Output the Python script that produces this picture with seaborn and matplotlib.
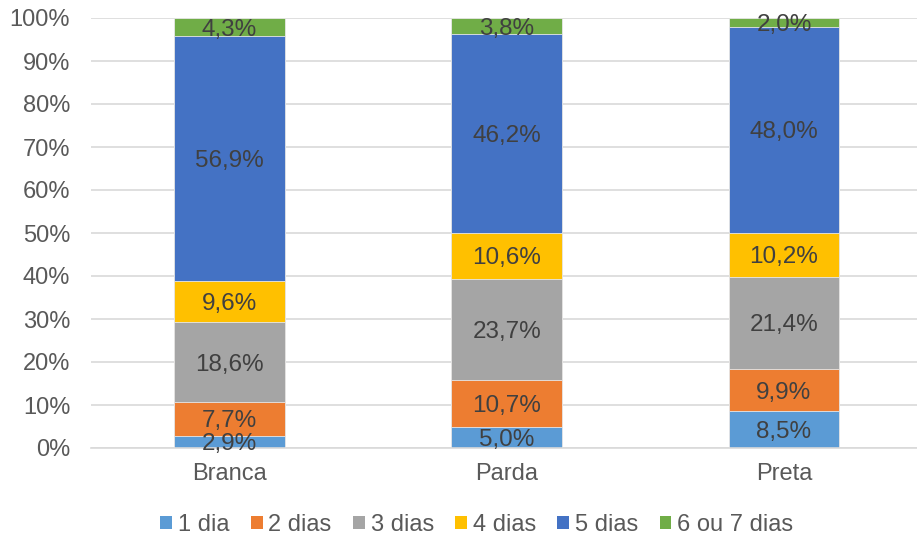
import matplotlib
matplotlib.use('Agg')
import matplotlib.pyplot as plt
from matplotlib.patches import Patch
from matplotlib.ticker import PercentFormatter
import seaborn as sns
import pandas as pd
import numpy as np

# Data (percent of each group).
grupos = ['Branca', 'Parda', 'Preta']
series = ['1 dia', '2 dias', '3 dias', '4 dias', '5 dias', '6 ou 7 dias']
dia1 = [2.9, 5.0, 8.5]
dias2 = [7.7, 10.7, 9.9]
dias3 = [18.6, 23.7, 21.4]
dias4 = [9.6, 10.6, 10.2]
dias5 = [56.9, 46.2, 48.0]
dias6_7 = [4.3, 3.8, 2.0]
cores = ['#5B9BD5', '#ED7D31', '#A5A5A5', '#FFC000', '#4472C4', '#70AD47']

sns.set_style('white')
plt.rcParams['font.family'] = ['Liberation Sans', 'DejaVu Sans']

df = pd.DataFrame([dia1, dias2, dias3, dias4, dias5, dias6_7], index=series, columns=grupos)
cum = df.cumsum()

fig = plt.figure(figsize=(9.17, 5.38), dpi=100)
ax = fig.add_axes([91 / 917, 1 - 448 / 538, 826 / 917, 430 / 538])

# Stacked bars: draw cumulative totals from the top layer down.
for s, c in reversed(list(zip(series, cores))):
    d = pd.DataFrame({'grupo': grupos, 'valor': cum.loc[s].values})
    sns.barplot(data=d, x='grupo', y='valor', color=c, width=0.4, ax=ax,
                edgecolor='#e8e8e8', linewidth=0.6, saturation=1, zorder=2)

# Data labels centred in each segment.
for s in series:
    for i, g in enumerate(grupos):
        v = df.loc[s, g]
        ax.text(i, cum.loc[s, g] - v / 2, f'{v:.1f}%'.replace('.', ','),
                ha='center', va='center_baseline', fontsize=17.5, color='#404040', zorder=3)

ax.set_ylim(0, 100)
ax.set_xlim(-0.5, 2.48)
ax.set_yticks(np.arange(0, 101, 10))
ax.yaxis.set_major_formatter(PercentFormatter(decimals=0))
ax.grid(axis='y', color='#D9D9D9', linewidth=1.2, zorder=0)
ax.set_axisbelow(True)
for sp in ['top', 'right', 'left']:
    ax.spines[sp].set_visible(False)
ax.spines['bottom'].set_color('#D9D9D9')
ax.spines['bottom'].set_linewidth(1.2)
ax.tick_params(axis='both', length=0, labelsize=17, colors='#595959')
ax.tick_params(axis='y', pad=15)
ax.tick_params(axis='x', pad=11)
ax.set_xlabel('')
ax.set_ylabel('')

handles = [Patch(facecolor=c, edgecolor='none', label=s) for s, c in zip(series, cores)]
fig.legend(handles=handles, loc='center', bbox_to_anchor=(0.52, 0.024), ncol=6,
           frameon=False, fontsize=17, handlelength=0.5, handleheight=0.5,
           handletextpad=0.25, columnspacing=0.9, labelcolor='#595959')

fig.savefig('out.png', dpi=100)
